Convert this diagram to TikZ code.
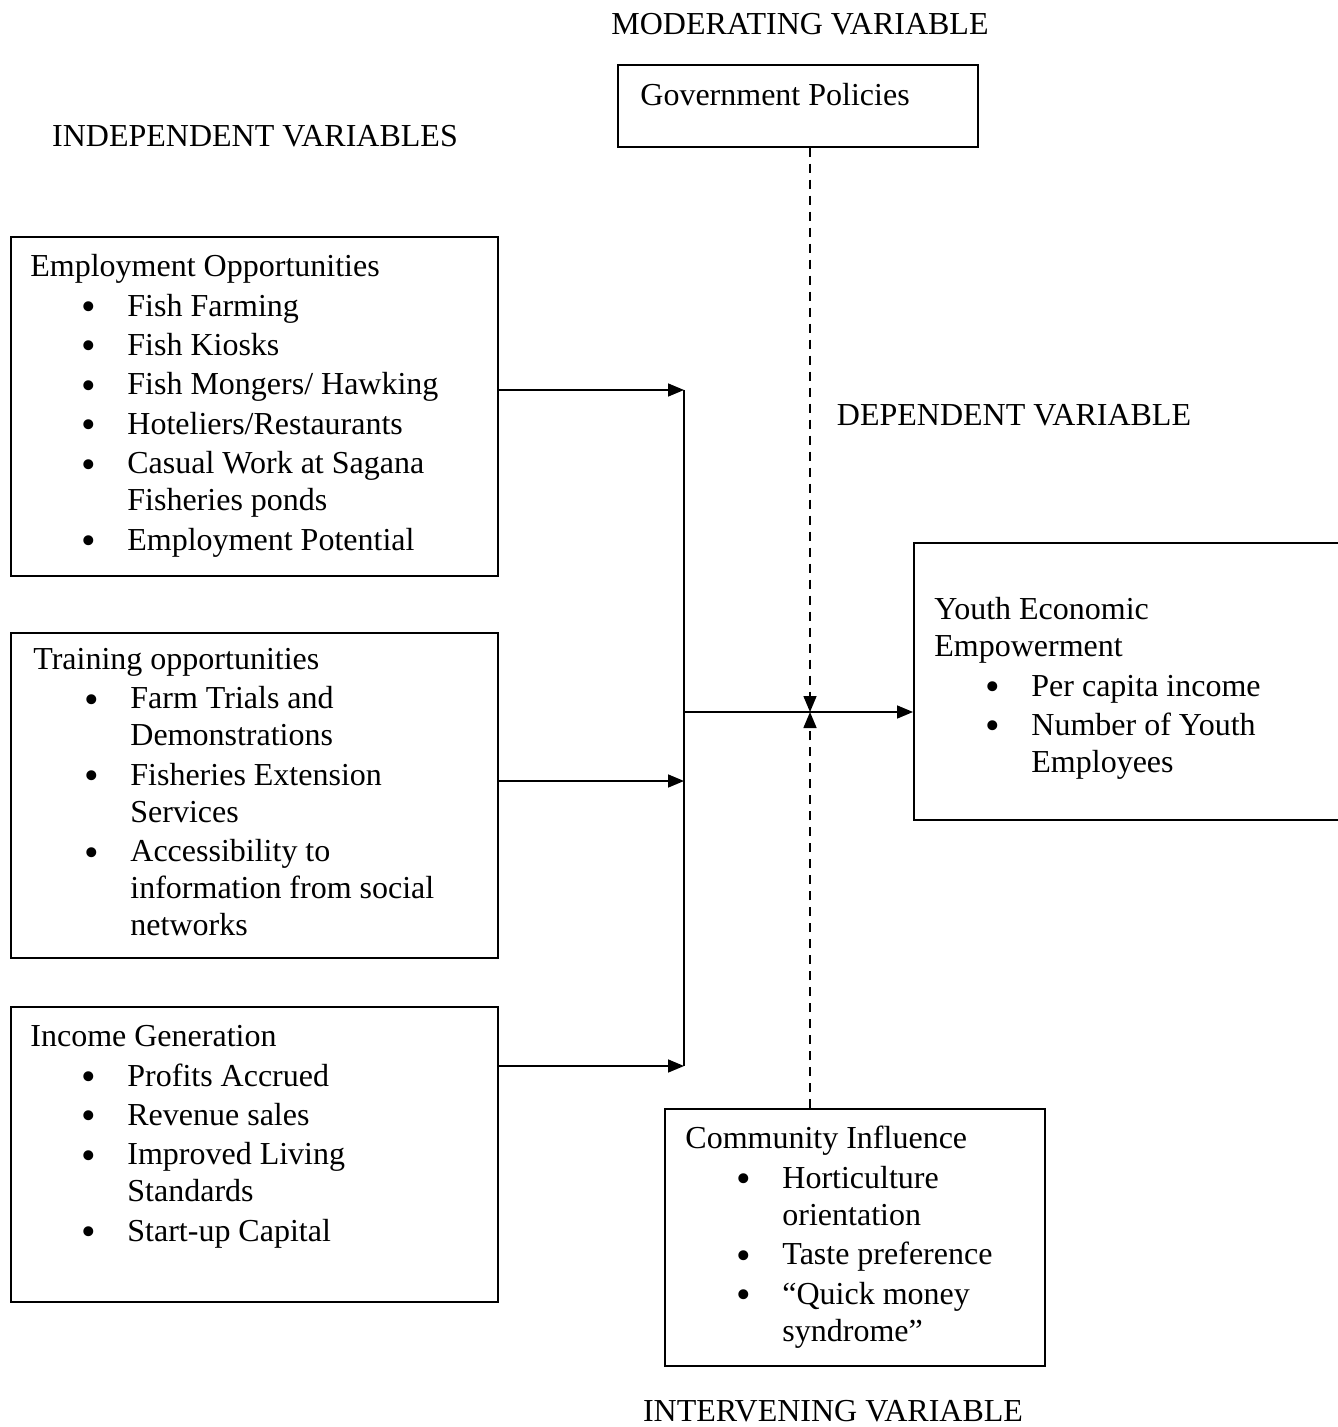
\documentclass[tikz,border=0pt]{standalone}
\usepackage{fontspec}
\setmainfont{Liberation Serif}
\usetikzlibrary{arrows.meta}

% bullet item and continuation line inside a box
\newcommand{\itm}{\hspace*{25.5pt}\makebox[23pt][l]{\raisebox{-2.2pt}{\scalebox{1.3}{\textbullet}}}}
\newcommand{\cnt}{\hspace*{48.5pt}}

\tikzset{
  box/.style={draw, line width=0.8pt, anchor=north west, inner sep=0pt},
  txt/.style={anchor=north west, align=left, inner sep=0pt, font=\fontsize{16}{18.5}\selectfont},
  lbl/.style={anchor=base, inner sep=0pt, font=\fontsize{16}{18.5}\selectfont},
  arr/.style={line width=0.8pt, -{Triangle[length=8pt,width=6.5pt]}},
  dsh/.style={arr, dash pattern=on 4.5pt off 3.5pt}
}

\begin{document}
\begin{tikzpicture}[x=0.5pt,y=-0.5pt]
\useasboundingbox (0,0) rectangle (1337,1427);
% headings
\node[lbl] (Moderating) at (800,35) {MODERATING VARIABLE};
\node[lbl] (Independent) at (255,147) {INDEPENDENT VARIABLES};
\node[lbl] (Dependent) at (1014,425) {DEPENDENT VARIABLE};
\node[lbl] (Intervening) at (833,1421) {INTERVENING VARIABLE};
% boxes
\node[box, minimum width=180pt, minimum height=41pt] (gov) at (617,64) {};
\node[box, minimum width=243.5pt, minimum height=169.5pt] (emp) at (10,236) {};
\node[box, minimum width=243.5pt, minimum height=162.5pt] (train) at (10,632) {};
\node[box, minimum width=243.5pt, minimum height=147.5pt] (inc) at (10,1006) {};
\node[box, minimum width=222pt, minimum height=138.5pt] (youth) at (913,542) {};
\node[box, minimum width=190pt, minimum height=128.5pt] (comm) at (664,1108) {};
% box texts
\node[txt] (GovText) at ([xshift=11.5pt,yshift=-9.5pt]gov.north west) {Government Policies};
\node[txt] (EmpText) at ([xshift=10pt,yshift=-9pt]emp.north west) {Employment Opportunities\\[1.2pt]
  \itm Fish Farming\\[1.2pt]
  \itm Fish Kiosks\\[1.2pt]
  \itm Fish Mongers/ Hawking\\[1.2pt]
  \itm Hoteliers/Restaurants\\[1.2pt]
  \itm Casual Work at Sagana\\
  \cnt Fisheries ponds\\[1.2pt]
  \itm Employment Potential};
\node[txt] (TrainText) at ([xshift=11.5pt,yshift=-8pt]train.north west) {Training opportunities\\[1.2pt]
  \itm Farm Trials and\\
  \cnt Demonstrations\\[1.2pt]
  \itm Fisheries Extension\\
  \cnt Services\\[1.2pt]
  \itm Accessibility to\\
  \cnt information from social\\
  \cnt networks};
\node[txt] (IncText) at ([xshift=10pt,yshift=-9.5pt]inc.north west) {Income Generation\\[1.2pt]
  \itm Profits Accrued\\[1.2pt]
  \itm Revenue sales\\[1.2pt]
  \itm Improved Living\\
  \cnt Standards\\[1.2pt]
  \itm Start-up Capital};
\node[txt] (YouthText) at ([xshift=10.5pt,yshift=-27.5pt]youth.north west) {Youth Economic\\
  Empowerment\\[1.2pt]
  \itm Per capita income\\[1.2pt]
  \itm Number of Youth\\
  \cnt Employees};
\node[txt] (CommText) at ([xshift=10.5pt,yshift=-9pt]comm.north west) {Community Influence\\[1.2pt]
  \itm Horticulture\\
  \cnt orientation\\[1.2pt]
  \itm Taste preference\\[1.2pt]
  \itm ``Quick money\\
  \cnt syndrome''};
% connectors
\coordinate (e1) at (684,390);
\coordinate (e2) at (684,781);
\coordinate (e3) at (684,1066);
\coordinate (mid) at (684,712);
\coordinate (cross) at (810,712);
\draw[line width=0.8pt] (e1) -- (e3);
\draw[arr] (emp.east |- e1) -- (e1);
\draw[arr] (train.east |- e2) -- (e2);
\draw[arr] (inc.east |- e3) -- (e3);
\draw[arr] (mid) -- (mid -| youth.west);
\draw[dsh] (gov.south -| cross) -- (cross);
\draw[dsh] (comm.north -| cross) -- (cross);
\end{tikzpicture}
\end{document}
